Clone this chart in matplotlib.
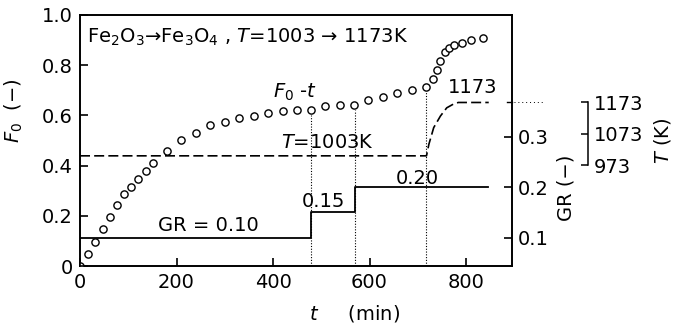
import matplotlib
matplotlib.use("Agg")
import matplotlib.pyplot as plt

# F0 - t data (open circles)
t_f0 = [0, 17, 32, 47, 62, 77, 92, 106, 121, 136, 152, 180, 210, 240, 270,
        300, 329, 360, 390, 420, 449, 478, 507, 538, 567, 597, 627, 657, 687,
        718, 732, 740, 747, 756, 764, 775, 791, 811, 836]
f0 = [0.0, 0.047, 0.097, 0.147, 0.196, 0.243, 0.286, 0.316, 0.347, 0.378,
      0.409, 0.458, 0.502, 0.531, 0.560, 0.575, 0.588, 0.598, 0.608, 0.616,
      0.623, 0.621, 0.637, 0.640, 0.641, 0.660, 0.675, 0.690, 0.701, 0.714,
      0.744, 0.781, 0.818, 0.851, 0.867, 0.880, 0.890, 0.900, 0.907]

# gas ratio steps
t_gr = [0, 478, 569, 846]
gr = [0.10, 0.15, 0.20, 0.20]

# temperature program
t_temp = [0, 718, 723, 733, 747, 760, 774, 784, 847]
temp = [1003, 1003, 1040, 1093, 1130, 1156, 1168, 1173, 1173]

# times where conditions change (dotted markers)
t_switch = [478, 569, 718]
f0_switch = [0.621, 0.641, 0.714]

plt.rcParams["font.family"] = "DejaVu Sans"
plt.rcParams["mathtext.fontset"] = "dejavusans"
FS = 14

fig = plt.figure(figsize=(6.78, 3.24), dpi=100)
ax = fig.add_axes([0.118, 0.179, 0.637, 0.775])
ax_gr = ax.twinx()
ax_t = ax.twinx()
ax.set_zorder(3)
ax.patch.set_visible(False)

lw = 1.2
for a in (ax, ax_gr):
    for s in a.spines.values():
        s.set_linewidth(lw)

# F0 circles
ax.plot(t_f0, f0, "o", ms=5.2, mfc="white", mec="black", mew=1.0, ls="none")
ax.vlines(t_switch, 0, [v - 0.018 for v in f0_switch], colors="black",
          linestyles=(0, (1, 1.5)), lw=0.8)

ax.set_xlim(0, 895)
ax.set_ylim(0, 1.0)
ax.set_xticks([0, 200, 400, 600, 800])
ax.set_yticks([0, 0.2, 0.4, 0.6, 0.8, 1.0])
ax.set_yticklabels(["0", "0.2", "0.4", "0.6", "0.8", "1.0"])
ax.tick_params(direction="in", length=6, width=lw, labelsize=FS, pad=5)
ax.set_ylabel("$F_0$  (−)", fontsize=FS)
ax.yaxis.set_label_coords(-0.128, 0.62)
ax.text(0.635, -0.19, "$t$     (min)", transform=ax.transAxes, fontsize=FS,
        ha="center", va="center")

# GR step line
ax_gr.step(t_gr, gr, where="post", color="black", lw=1.3)
ax_gr.set_ylim(0.044, 0.541)
ax_gr.set_yticks([0.1, 0.2, 0.3])
ax_gr.set_yticklabels(["0.1", "0.2", "0.3"])
ax_gr.tick_params(direction="in", length=6, width=lw, labelsize=FS, pad=4)
ax_gr.text(1.125, 0.31, "GR (−)", transform=ax_gr.transAxes, fontsize=FS,
           rotation=90, ha="center", va="center")

# temperature axis (separate bracket on the right)
ax_t.plot(t_temp, temp, color="black", lw=1.2, ls=(0, (6, 2.5)))
ax_t.plot([884, 895], [1173, 1173], color="black", lw=1.0, clip_on=False)
ax_t.plot([900, 960], [1173, 1173], color="black", lw=0.7, ls=(0, (1, 3)),
          clip_on=False)
ax_t.set_ylim(652, 1452)
for k in ("left", "top", "bottom"):
    ax_t.spines[k].set_visible(False)
ax_t.spines["right"].set_position(("axes", 1.176))
ax_t.spines["right"].set_bounds(973, 1173)
ax_t.spines["right"].set_linewidth(1.1)
ax_t.set_yticks([973, 1073, 1173])
ax_t.tick_params(direction="in", length=5, width=1.1, labelsize=FS, pad=4)
ax_t.text(1.348, 0.5, "$T$ (K)", transform=ax_t.transAxes, fontsize=FS,
          rotation=90, ha="center", va="center")

# annotations
ax.text(15, 0.912, "Fe$_2$O$_3$→Fe$_3$O$_4$ , $T$=1003 → 1173K", fontsize=FS,
        ha="left", va="center")
ax.text(399, 0.69, "$F_0$ -$t$", fontsize=FS, ha="left", va="center")
ax.text(416, 0.49, "$T$=1003K", fontsize=FS, ha="left", va="center")
ax.text(813, 0.709, "1173", fontsize=FS, ha="center", va="center")
ax.text(266, 0.163, "GR = 0.10", fontsize=FS, ha="center", va="center")
ax.text(505, 0.256, "0.15", fontsize=FS, ha="center", va="center")
ax.text(699, 0.35, "0.20", fontsize=FS, ha="center", va="center")

fig.savefig("out.png", dpi=100)
